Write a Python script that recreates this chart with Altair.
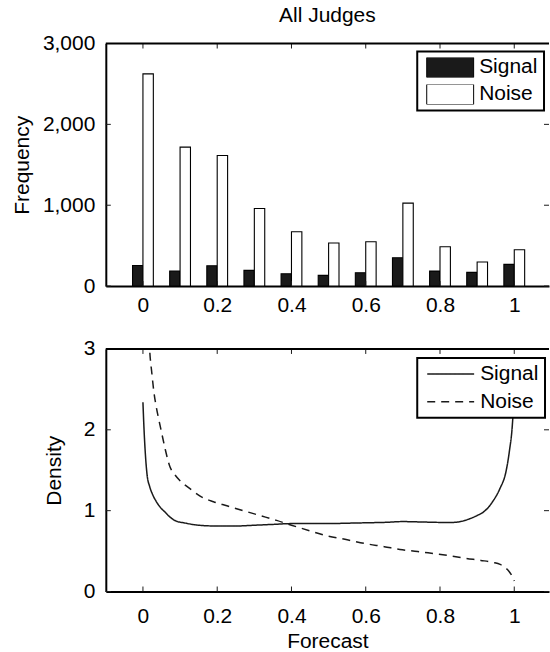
import altair as alt
import pandas as pd

# ---------------- data ----------------
forecast_bins = [0.0, 0.1, 0.2, 0.3, 0.4, 0.5, 0.6, 0.7, 0.8, 0.9, 1.0]
signal_freq = [255, 185, 251, 194, 152, 132, 165, 350, 185, 169, 268]
noise_freq = [2625, 1718, 1615, 960, 672, 532, 548, 1026, 486, 297, 449]

signal_x = [0.0, 0.003, 0.006, 0.011, 0.018, 0.026, 0.035, 0.047, 0.06, 0.073, 0.09,
            0.11, 0.15, 0.2, 0.25, 0.3, 0.35, 0.4, 0.45, 0.5, 0.55, 0.6, 0.65, 0.7,
            0.75, 0.8, 0.835, 0.86, 0.88, 0.9, 0.916, 0.93, 0.943, 0.961, 0.978,
            0.987, 0.995, 0.998, 1.0]
signal_y = [2.34, 2.0, 1.74, 1.45, 1.3, 1.2, 1.12, 1.04, 0.98, 0.92, 0.87,
            0.85, 0.82, 0.81, 0.81, 0.82, 0.83, 0.84, 0.84, 0.84, 0.845, 0.85, 0.855, 0.865,
            0.86, 0.855, 0.855, 0.87, 0.9, 0.94, 0.98, 1.04, 1.12, 1.27, 1.49,
            1.74, 2.07, 2.3, 2.5]

noise_x = [0.015, 0.018, 0.024, 0.03, 0.036, 0.044, 0.051, 0.06, 0.073, 0.085, 0.1,
           0.13, 0.154, 0.19, 0.226, 0.27, 0.315, 0.36, 0.4, 0.45, 0.495, 0.55,
           0.602, 0.65, 0.692, 0.74, 0.781, 0.83, 0.871, 0.91, 0.943, 0.962,
           0.974, 0.985, 0.992, 0.997, 1.0]
noise_y = [3.3, 3.0, 2.7, 2.45, 2.28, 2.1, 1.95, 1.76, 1.54, 1.45, 1.37,
           1.26, 1.18, 1.11, 1.06, 1.0, 0.94, 0.88, 0.82, 0.75, 0.69, 0.64,
           0.59, 0.555, 0.52, 0.495, 0.47, 0.44, 0.41, 0.385, 0.36, 0.335,
           0.30, 0.255, 0.21, 0.17, 0.13]

series_names = ["Signal", "Noise"]
x_ticks = [0.0, 0.2, 0.4, 0.6, 0.8, 1.0]
freq_ticks = [0, 1000, 2000, 3000]
dens_ticks = [0, 1, 2, 3]

# ---------------- layout / style ----------------
FONT = "Liberation Sans"
FS = 21
INK = "#1a1a1a"
W, H = 444, 243          # right spine of the original lies just outside the picture
TICK = 5
BARW = 0.028
X_MAX = -0.1 + W / 372.0

bars_df = pd.DataFrame(
    {"f": forecast_bins * 2,
     "series": ["Signal"] * len(forecast_bins) + ["Noise"] * len(forecast_bins),
     "count": signal_freq + noise_freq}
)
dens_df = pd.DataFrame(
    {"x": signal_x + noise_x,
     "y": signal_y + noise_y,
     "series": ["Signal"] * len(signal_x) + ["Noise"] * len(noise_x)}
)
xt_df = pd.DataFrame({"t": x_ticks})
ft_df = pd.DataFrame({"v": freq_ticks})
dt_df = pd.DataFrame({"v": dens_ticks})
one_df = pd.DataFrame({"k": [0]})

x_scale = alt.Scale(domain=[-0.1, X_MAX], nice=False, zero=False)
freq_scale = alt.Scale(domain=[0, 3000], nice=False)
dens_scale = alt.Scale(domain=[0, 3], nice=False)


def x_axis(title, pad):
    return alt.Axis(values=x_ticks, labelExpr="format(datum.value, '~g')", title=title,
                    ticks=False, domain=True, domainColor="black", domainWidth=2,
                    grid=False, labelPadding=pad, titlePadding=4)


def y_axis(values, fmt, title, tx):
    return alt.Axis(values=values, labelExpr=f"format(datum.value, '{fmt}')",
                    title=title, ticks=False, domain=True, domainColor="black",
                    domainWidth=2, grid=False, labelPadding=11,
                    titleX=tx, titleY=H / 2, titleBaseline="middle")


def frame_layers(ydf, yscale, xax, yax):
    base_x = alt.Chart(xt_df).mark_rule(color=INK, strokeWidth=1)
    top = base_x.encode(x=alt.X("t:Q", scale=x_scale, axis=xax),
                        y=alt.value(0), y2=alt.value(TICK))
    bot = base_x.encode(x=alt.X("t:Q", scale=x_scale, axis=xax),
                        y=alt.value(H), y2=alt.value(H - TICK))
    base_y = alt.Chart(ydf).mark_rule(color=INK, strokeWidth=1)
    left = base_y.encode(y=alt.Y("v:Q", scale=yscale, axis=yax),
                         x=alt.value(0), x2=alt.value(TICK))
    right = base_y.encode(y=alt.Y("v:Q", scale=yscale, axis=yax),
                          x=alt.value(W - TICK), x2=alt.value(W))
    spine = alt.Chart(one_df).mark_rule(color="black", strokeWidth=2).encode(
        x=alt.value(0), x2=alt.value(W), y=alt.value(0))
    return [top, bot, left, right, spine]


common_legend = dict(title=None, orient="none", legendX=312, clipHeight=20, padding=6,
                     symbolOffset=3, labelOffset=5, labelFont=FONT, labelFontSize=FS,
                     labelColor="black", strokeColor="black", fillColor="white")

# ---------------- top panel ----------------
top_xax = x_axis(None, 8)
top_yax = y_axis(freq_ticks, ",", "Frequency", -83.5)
bars = alt.Chart(bars_df).transform_calculate(
    x0=f"datum.series == 'Signal' ? datum.f - {BARW} : datum.f",
    x1=f"datum.series == 'Signal' ? datum.f : datum.f + {BARW}",
).mark_bar(stroke="black", strokeWidth=1.1).encode(
    x=alt.X("x0:Q", scale=x_scale, axis=top_xax),
    x2="x1:Q",
    y=alt.Y("count:Q", scale=freq_scale, axis=top_yax),
    y2=alt.datum(0),
    fill=alt.Fill("series:N", scale=alt.Scale(domain=series_names, range=[INK, "white"]),
                  legend=alt.Legend(legendY=8, rowPadding=6,
                                    symbolType="M-1,-0.43L1,-0.43L1,0.43L-1,0.43Z",
                                    symbolSize=2209, symbolStrokeColor="black",
                                    symbolStrokeWidth=1, **common_legend)),
)
top = alt.layer(bars, *frame_layers(ft_df, freq_scale, top_xax, top_yax)).properties(
    width=W, height=H,
    title=alt.Title("All Judges", font=FONT, fontSize=FS, fontWeight="normal",
                    color="black", frame="group", anchor="middle", offset=7),
)

# ---------------- bottom panel ----------------
bot_xax = x_axis("Forecast", 14)
bot_yax = y_axis(dens_ticks, "~g", "Density", -51.5)
lines = alt.Chart(dens_df).mark_line(color=INK, strokeWidth=1.5, interpolate="monotone",
                                     clip=True).encode(
    x=alt.X("x:Q", scale=x_scale, axis=bot_xax),
    y=alt.Y("y:Q", scale=dens_scale, axis=bot_yax),
    strokeDash=alt.StrokeDash("series:N",
                              scale=alt.Scale(domain=series_names, range=[[1, 0], [8, 6]]),
                              legend=alt.Legend(legendY=9, rowPadding=7, symbolType="stroke",
                                                symbolSize=2209, symbolStrokeColor=INK,
                                                symbolStrokeWidth=1.5, **common_legend)),
    order=alt.Order("x:Q"),
)
bottom = alt.layer(lines, *frame_layers(dt_df, dens_scale, bot_xax, bot_yax)).properties(
    width=W, height=H)

chart = alt.vconcat(top, bottom, spacing=23).resolve_scale(
    fill="independent", strokeDash="independent"
).resolve_legend(
    fill="independent", strokeDash="independent"
).properties(
    padding={"left": 11, "top": 4, "right": 0, "bottom": 0},
    background="white",
).configure_view(
    strokeWidth=0, strokeOpacity=0
).configure_axis(
    labelFont=FONT, labelFontSize=FS, labelColor="black",
    titleFont=FONT, titleFontSize=FS, titleColor="black", titleFontWeight="normal",
).configure_legend(strokeWidth=2)

chart.save("out.html", embed_options={"renderer": "svg", "actions": False})
